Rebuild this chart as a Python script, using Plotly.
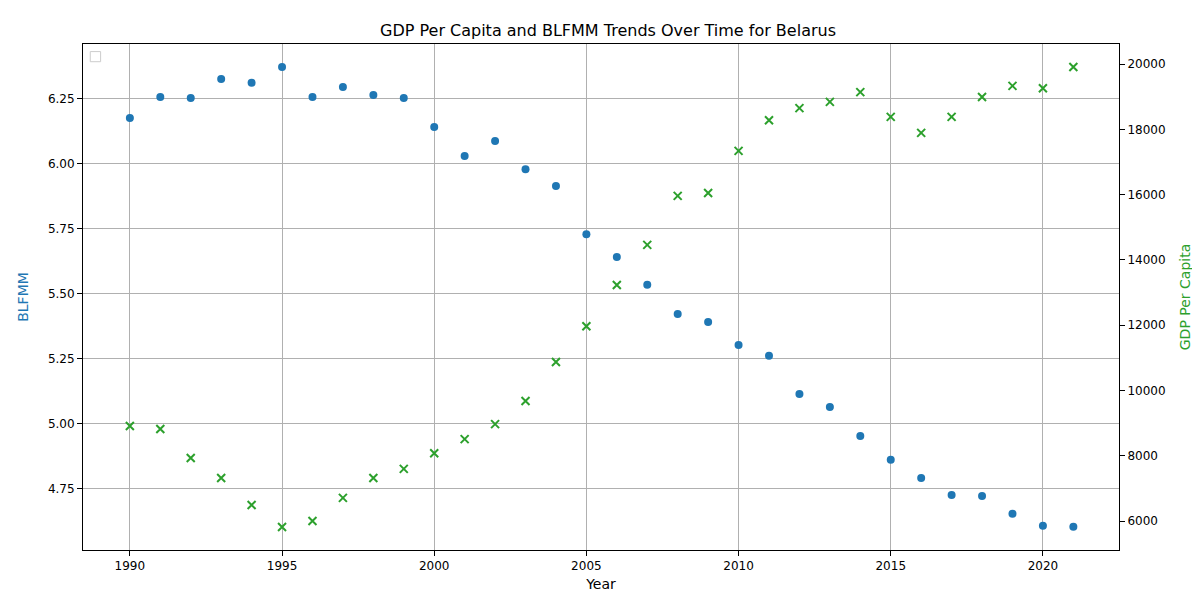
import plotly.graph_objects as go

years = list(range(1990, 2022))
blfmm = [6.177, 6.258, 6.254, 6.327, 6.312, 6.373, 6.258, 6.296, 6.265, 6.254,
         6.142, 6.031, 6.088, 5.980, 5.915, 5.730, 5.642, 5.535, 5.423, 5.392,
         5.304, 5.262, 5.115, 5.065, 4.954, 4.862, 4.792, 4.727, 4.723, 4.654,
         4.608, 4.604]
gdp = [8910, 8820, 7930, 7320, 6490, 5820, 6000, 6710, 7320, 7600,
       8080, 8510, 8970, 9680, 10870, 11970, 13230, 14460, 15960, 16050,
       17340, 18280, 18650, 18840, 19140, 18380, 17890, 18380, 18990, 19330,
       19260, 19910]

fig = go.Figure()
fig.add_trace(go.Scatter(x=years, y=blfmm, mode="markers", name="BLFMM",
                         marker=dict(color="#1f77b4", size=8), yaxis="y"))
fig.add_trace(go.Scatter(x=years, y=gdp, mode="markers", name="GDP Per Capita",
                         marker=dict(color="#2ca02c", size=8, symbol="x-thin",
                                     line=dict(color="#2ca02c", width=2)), yaxis="y2"))

ax = dict(showline=True, mirror=True, linecolor="black", ticks="outside",
          tickcolor="black", zeroline=False, automargin=False)
fig.update_layout(
    width=1200, height=600, plot_bgcolor="white", paper_bgcolor="white",
    font=dict(family="DejaVu Sans", size=12, color="black"),
    title=dict(text="GDP Per Capita and BLFMM Trends Over Time for Belarus",
               x=0.5, y=0.963, xanchor="center", yanchor="middle",
               font=dict(size=16), automargin=False),
    margin=dict(l=75, r=89, t=36, b=58, autoexpand=False),
    showlegend=False,
    xaxis=dict(**ax, title=dict(text="Year", standoff=6), range=[1988.46, 2022.5],
               tickvals=[1990, 1995, 2000, 2005, 2010, 2015, 2020],
               showgrid=True, gridcolor="#b0b0b0"),
    yaxis=dict(**ax, title=dict(text="BLFMM", font=dict(color="#1f77b4")),
               range=[4.515, 6.4615], tickvals=[4.75, 5.0, 5.25, 5.5, 5.75, 6.0, 6.25],
               tickformat=".2f", showgrid=True, gridcolor="#b0b0b0"),
    yaxis2=dict(**ax, overlaying="y", side="right",
                title=dict(text="GDP Per Capita", font=dict(color="#2ca02c")),
                range=[5114, 20613], tickvals=list(range(6000, 20001, 2000)),
                tickformat="d", showgrid=False),
    shapes=[dict(type="rect", xref="paper", yref="paper", x0=0.007, x1=0.017,
                 y0=0.965, y1=0.985, line=dict(color="#cccccc", width=1),
                 fillcolor="white")],
)
fig.write_html("out.html")
